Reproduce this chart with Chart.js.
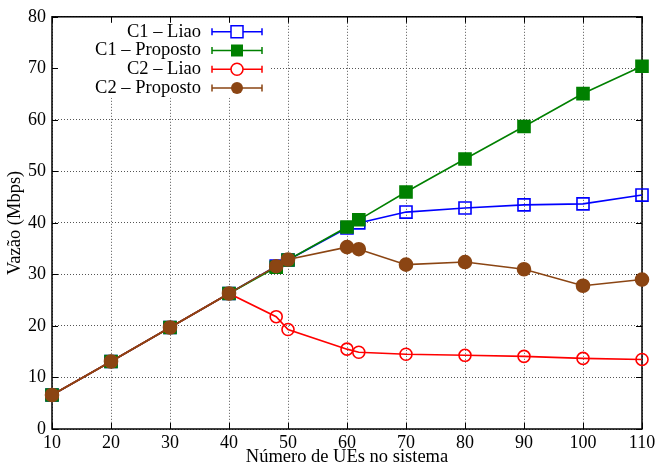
<!DOCTYPE html>
<html>
<head>
<meta charset="utf-8">
<script src="https://cdn.jsdelivr.net/npm/chart.js@4"></script>
<style>
  body { margin: 0; background: #fff; }
</style>
</head>
<body>
<canvas id="chart" width="660" height="468"></canvas>
<script>
const ues = [10, 20, 30, 40, 48, 50, 60, 62, 70, 80, 90, 100, 110];
const c1Liao = [6.6, 13.1, 19.7, 26.3, 31.6, 32.8, 39.0, 40.0, 42.1, 42.9, 43.5, 43.7, 45.4];
const c1Proposto = [6.6, 13.1, 19.7, 26.3, 31.4, 32.8, 39.2, 40.6, 46.0, 52.4, 58.7, 65.1, 70.4];
const c2Liao = [6.6, 13.1, 19.7, 26.3, 21.8, 19.3, 15.5, 14.9, 14.5, 14.3, 14.1, 13.7, 13.5];
const c2Proposto = [6.6, 13.1, 19.7, 26.3, 31.6, 32.9, 35.3, 34.9, 31.9, 32.4, 31.0, 27.8, 29.0];

const seriesNames = ["C1 \u2013 Liao", "C1 \u2013 Proposto", "C2 \u2013 Liao", "C2 \u2013 Proposto"];
const FONT = "'Liberation Serif', 'DejaVu Serif', serif";

const ctx = document.getElementById("chart").getContext("2d");

function pts(values) {
  return values.map((v, i) => ({ x: ues[i], y: v }));
}

const styles = [
  { color: "#0000ff", pointStyle: "rect", radius: 8.5, fill: false },
  { color: "#008000", pointStyle: "rect", radius: 8.5, fill: true },
  { color: "#ff0000", pointStyle: "circle", radius: 6, fill: false },
  { color: "#8b4513", pointStyle: "circle", radius: 6.5, fill: true },
];

// frame, inward ticks and the gnuplot style key
const framePlugin = {
  id: "frame",
  beforeDatasetsDraw(chart) {
    const { ctx, chartArea: a, scales } = chart;
    ctx.save();
    // key background hides the grid behind it
    ctx.fillStyle = "#fff";
    ctx.fillRect(a.left + 1, a.top + 1, 218, 80);
    ctx.strokeStyle = "#000";
    ctx.lineWidth = 1;
    scales.x.ticks.forEach(t => {
      const px = Math.round(scales.x.getPixelForValue(t.value)) + 0.5;
      ctx.beginPath();
      ctx.moveTo(px, a.bottom); ctx.lineTo(px, a.bottom - 6);
      ctx.moveTo(px, a.top); ctx.lineTo(px, a.top + 6);
      ctx.stroke();
    });
    scales.y.ticks.forEach(t => {
      const py = Math.round(scales.y.getPixelForValue(t.value)) + 0.5;
      ctx.beginPath();
      ctx.moveTo(a.left, py); ctx.lineTo(a.left + 6, py);
      ctx.moveTo(a.right, py); ctx.lineTo(a.right - 6, py);
      ctx.stroke();
    });
    ctx.lineWidth = 1.5;
    ctx.strokeRect(a.left, a.top, a.right - a.left, a.bottom - a.top);
    ctx.restore();
  },
  afterDatasetsDraw(chart) {
    const { ctx, chartArea: a } = chart;
    ctx.save();
    // key
    ctx.font = "18.5px " + FONT;
    ctx.textAlign = "right";
    ctx.textBaseline = "middle";
    seriesNames.forEach((name, i) => {
      const y = a.top + 15 + i * 18.7;
      const s = styles[i];
      ctx.fillStyle = "#000";
      ctx.fillText(name, a.left + 149, y);
      const x0 = a.left + 160, x1 = a.left + 210, xm = (x0 + x1) / 2;
      ctx.strokeStyle = s.color;
      ctx.lineWidth = 1.5;
      ctx.beginPath();
      ctx.moveTo(x0, y); ctx.lineTo(x1, y);
      ctx.moveTo(x0, y - 3.5); ctx.lineTo(x0, y + 3.5);
      ctx.moveTo(x1, y - 3.5); ctx.lineTo(x1, y + 3.5);
      ctx.stroke();
      ctx.beginPath();
      if (s.pointStyle === "rect") {
        ctx.rect(xm - 6, y - 6, 12, 12);
      } else {
        ctx.arc(xm, y, 6, 0, Math.PI * 2);
      }
      if (s.fill) {
        ctx.fillStyle = s.color;
        ctx.fill();
      } else {
        ctx.fillStyle = "#fff";
        ctx.fill();
        ctx.stroke();
      }
    });
    ctx.restore();
  }
};

const allSeries = [c1Liao, c1Proposto, c2Liao, c2Proposto];

new Chart(ctx, {
  type: "line",
  data: {
    datasets: allSeries.map((vals, i) => ({
      label: seriesNames[i],
      data: pts(vals),
      borderColor: styles[i].color,
      backgroundColor: styles[i].fill ? styles[i].color : "rgba(255,255,255,0)",
      pointBorderColor: styles[i].color,
      pointBackgroundColor: styles[i].fill ? styles[i].color : "rgba(255,255,255,0)",
      pointStyle: styles[i].pointStyle,
      pointRadius: styles[i].radius,
      pointBorderWidth: 1.6,
      borderWidth: 1.6,
      tension: 0,
      fill: false,
      clip: false,
      order: 4 - i,
    })),
  },
  plugins: [framePlugin],
  options: {
    responsive: false,
    animation: false,
    layout: { padding: { top: 15, right: 18, left: 0, bottom: 0 } },
    plugins: {
      legend: { display: false },
      tooltip: { enabled: false },
    },
    scales: {
      x: {
        type: "linear",
        min: 10,
        max: 110,
        afterFit: (scale) => { scale.height = 39; },
        ticks: {
          stepSize: 10,
          color: "#000",
          padding: 3,
          maxRotation: 0,
          font: { family: FONT, size: 18 },
        },
        grid: { color: "#555", lineWidth: 1, drawTicks: false },
        border: { display: false, dash: [1, 2] },
        title: {
          display: true,
          text: "N\u00famero de UEs no sistema",
          color: "#000",
          font: { family: FONT, size: 18.5 },
          padding: { top: 0, bottom: 0 },
        },
      },
      y: {
        min: 0,
        max: 80,
        afterFit: (scale) => { scale.width = 52; },
        ticks: {
          stepSize: 10,
          color: "#000",
          padding: 6,
          font: { family: FONT, size: 18 },
        },
        grid: { color: "#555", lineWidth: 1, drawTicks: false },
        border: { display: false, dash: [1, 2] },
        title: {
          display: true,
          text: "Vaz\u00e3o (Mbps)",
          color: "#000",
          font: { family: FONT, size: 18.5 },
          padding: { top: 4, bottom: 0 },
        },
      },
    },
  },
});
</script>
</body>
</html>
